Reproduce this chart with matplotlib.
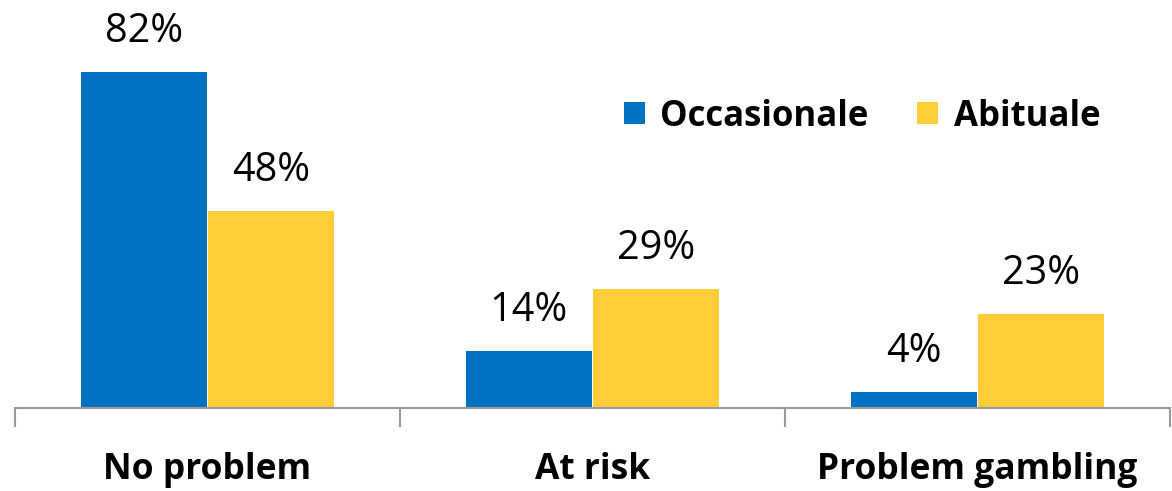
import matplotlib.pyplot as plt
import numpy as np

categories = ['No problem', 'At risk', 'Problem gambling']
occasionale = [82, 14, 4]
abituale = [48, 29, 23]
series_names = ['Occasionale', 'Abituale']

plt.rcParams['font.family'] = ['Open Sans', 'DejaVu Sans']

fig = plt.figure(figsize=(11.72, 4.91), dpi=100)
ax = fig.add_axes([15 / 1172, 83 / 491, 1155 / 1172, 408 / 491])

x = np.arange(len(categories))
w = 0.327
b1 = ax.bar(x - w / 2 - 0.0025, occasionale, w, color='#0070C0', label=series_names[0])
b2 = ax.bar(x + w / 2 + 0.0025, abituale, w, color='#FFCD38', label=series_names[1])

for bars, vals in [(b1, occasionale), (b2, abituale)]:
    for r, v in zip(bars, vals):
        ax.text(r.get_x() + r.get_width() / 2, v + 4.8, f'{v}%',
                ha='center', va='bottom', fontsize=28.5)

ax.set_xlim(-0.5, 2.5)
ax.set_ylim(0, 99.5)
ax.set_yticks([])
ax.set_xticks([-0.5, 0.5, 1.5, 2.5], minor=False)
ax.set_xticklabels([])
ax.tick_params(axis='x', length=14, color='#999999', width=1.5)
ax.set_xticks(x, minor=True)
ax.set_xticklabels(categories, minor=True, fontsize=25.5, fontweight='bold')
ax.tick_params(axis='x', which='minor', length=0, pad=32)
for s in ['top', 'right', 'left']:
    ax.spines[s].set_visible(False)
ax.spines['bottom'].set_color('#999999')
ax.spines['bottom'].set_linewidth(1.5)

leg = ax.legend(loc='upper left', bbox_to_anchor=(0.5, 0.835), ncol=2, frameon=False,
                prop={'size': 25, 'weight': 'bold'}, handlelength=0.6, handleheight=0.6,
                handletextpad=0.45, columnspacing=1.4)

fig.savefig('out.png', dpi=100)
